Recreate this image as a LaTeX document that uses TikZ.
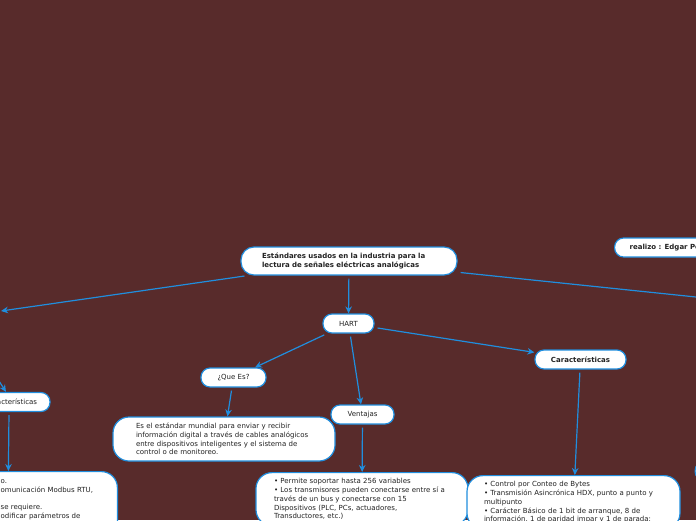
\documentclass[tikz,border=0pt]{standalone}
\usepackage{fontspec}
\setmainfont{DejaVu Sans}
\usepackage{xcolor}
\usetikzlibrary{arrows.meta,positioning}
\definecolor{bgbrown}{RGB}{88,43,43}
\definecolor{mapblue}{RGB}{32,142,222}
\definecolor{inktext}{RGB}{34,34,34}

\begin{document}
\begin{tikzpicture}[x=1pt,y=-1pt,>={Stealth[length=7pt,width=6.5pt]},
  every node/.style={font=\fontsize{7}{8.7}\selectfont,text=inktext},
  boldtext/.style={font=\fontsize{7}{8.7}\selectfont\bfseries},
  topic/.style={draw=mapblue,line width=1.2pt,fill=white,rounded corners=9pt,minimum height=19pt,inner sep=0pt},
  maintopic/.style={topic,boldtext,rounded corners=13pt,align=left},
  textbox/.style={draw=mapblue,line width=1.2pt,fill=white,rounded corners=16pt,align=left,inner ysep=0pt},
  link/.style={->,draw=mapblue,line width=1.2pt,shorten <=3pt}]
\useasboundingbox (0,0) rectangle (696,520);
\fill[bgbrown] (0,0) rectangle (696,520);

% central topic
\node[maintopic,minimum width=216pt,minimum height=28pt,text width=174pt,inner xsep=21pt] (main) at (349,261)
  {Estándares usados en la industria para la\\lectura de señales eléctricas analógicas};
\node[topic,boldtext,anchor=west,inner xsep=15pt] (autor) at (614,247.5) {realizo : Edgar Pe};

% HART branch
\node[topic,minimum width=51pt] (hart) at (348.5,323.5) {HART};
\node[topic,minimum width=65pt] (quees) at (233.5,377.5) {¿Que Es?};
\node[topic,minimum width=63pt] (ventajas) at (362.5,414.5) {Ventajas};
\node[topic,boldtext,minimum width=91pt] (caract) at (580.5,359.5) {Características};

\node[textbox,text width=176pt,inner xsep=23pt,minimum height=44pt] (queinfo) at (224,439)
  {Es el estándar mundial para enviar y recibir\\información digital a través de cables analógicos\\entre dispositivos inteligentes y el sistema de\\control o de monitoreo.};
\node[textbox,anchor=north,text width=176pt,inner xsep=18pt,inner ysep=6pt] (ventinfo) at (362,472)
  {• Permite soportar hasta 256 variables\\• Los transmisores pueden conectarse entre sí a\\través de un bus y conectarse con 15\\Dispositivos (PLC, PCs, actuadores,\\Transductores, etc.)};
\node[textbox,anchor=north,text width=179pt,inner xsep=17pt,inner ysep=6pt] (carinfo) at (573.5,475)
  {• Control por Conteo de Bytes\\• Transmisión Asincrónica HDX, punto a punto y\\multipunto\\• Carácter Básico de 1 bit de arranque, 8 de\\información, 1 de paridad impar y 1 de parada;};

% left branch (cut by the page edge)
\node[topic,minimum width=78pt] (lcar) at (11,402) {Características};
\node[textbox,anchor=north east,minimum width=218pt,minimum height=70pt] (modinfo) at (118,471) {};
\node[anchor=north west,align=left,inner sep=0pt] (modtext) at (0.5,479.5)
  {o.\\omunicación Modbus RTU,\\[8.7pt]se requiere.\\odificar parámetros de};

% right branch (cut by the page edge)
\node[topic,anchor=west,minimum width=60pt] (rtopic) at (694.5,471) {};

\coordinate (leftend) at (1,311);
\coordinate (rightend) at (720,299.5);
\coordinate (lcarin) at (-8,370);

\draw[link] (main) -- (hart);
\draw[link] (main) -- (leftend);
\draw[link] (main) -- (rightend);
\draw[link] (hart) -- (quees);
\draw[link] (hart) -- (ventajas);
\draw[link] (hart) -- (caract);
\draw[link] (quees) -- (queinfo);
\draw[link] (ventajas) -- (ventinfo);
\draw[link] (caract) -- (carinfo);
\draw[link,shorten <=0pt] (lcarin) -- ([xshift=-5pt]lcar.north);
\draw[link] ([xshift=-2pt]lcar.south) -- (modinfo.north);
\end{tikzpicture}
\end{document}
